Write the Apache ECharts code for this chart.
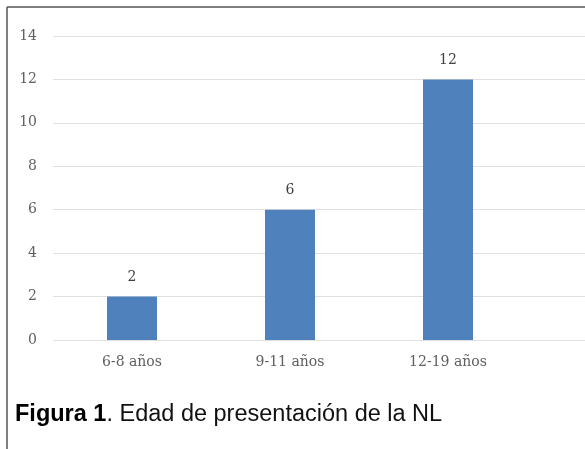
<!DOCTYPE html>
<html>
<head>
<meta charset="utf-8">
<script src="https://cdn.jsdelivr.net/npm/echarts@6/dist/echarts.min.js"></script>
<style>
html,body{margin:0;padding:0;background:#fff;}
#c{width:585px;height:449px;}
</style>
</head>
<body>
<div id="c"></div>
<script>
var categories = ['6-8 años', '9-11 años', '12-19 años'];
var values = [2, 6, 12];
var yMin = 0, yMax = 14, yStep = 2;
var captionBold = 'Figura 1';
var captionText = '. Edad de presentación de la NL';

var chart = echarts.init(document.getElementById('c'), null, {renderer: 'canvas'});
var serif = 'DejaVu Serif';
chart.setOption({
  animation: false,
  backgroundColor: '#ffffff',
  grid: [
    {left: 53, right: 58, top: 36, bottom: 109},
    {left: 53, right: 0, top: 36, bottom: 109}
  ],
  xAxis: [
    {
      type: 'category', gridIndex: 0, data: categories,
      axisLine: {show: false}, axisTick: {show: false},
      axisLabel: {color: '#606060', fontFamily: serif, fontSize: 14, margin: 15}
    },
    {type: 'value', gridIndex: 1, show: false}
  ],
  yAxis: [
    {
      type: 'value', gridIndex: 0, min: yMin, max: yMax, interval: yStep,
      axisLine: {show: false}, axisTick: {show: false}, splitLine: {show: false},
      axisLabel: {color: '#606060', fontFamily: serif, fontSize: 14, margin: 16}
    },
    {
      type: 'value', gridIndex: 1, min: yMin, max: yMax, interval: yStep,
      axisLine: {show: false}, axisTick: {show: false}, axisLabel: {show: false},
      splitLine: {show: true, lineStyle: {color: '#e0e0e0', width: 1}}
    }
  ],
  series: [{
    type: 'bar', xAxisIndex: 0, yAxisIndex: 0,
    data: values, barWidth: 50,
    itemStyle: {color: '#4f81bd'},
    label: {show: true, position: 'top', distance: 12, color: '#404040', fontFamily: serif, fontSize: 14}
  }],
  graphic: [
    {type: 'line', shape: {x1: 7, y1: 7, x2: 585, y2: 7}, style: {stroke: '#555555', lineWidth: 1.5}, silent: true},
    {type: 'line', shape: {x1: 7, y1: 7, x2: 7, y2: 449}, style: {stroke: '#555555', lineWidth: 1.5}, silent: true},
    {
      type: 'text', left: 15, top: 403, silent: true,
      style: {
        text: '{b|' + captionBold + '}' + captionText,
        rich: {b: {fontWeight: 'bold', fontFamily: 'Liberation Sans', fontSize: 23.5, fill: '#000'}},
        fontFamily: 'Liberation Sans', fontSize: 23.5, fill: '#111'
      }
    }
  ]
});
</script>
</body>
</html>
